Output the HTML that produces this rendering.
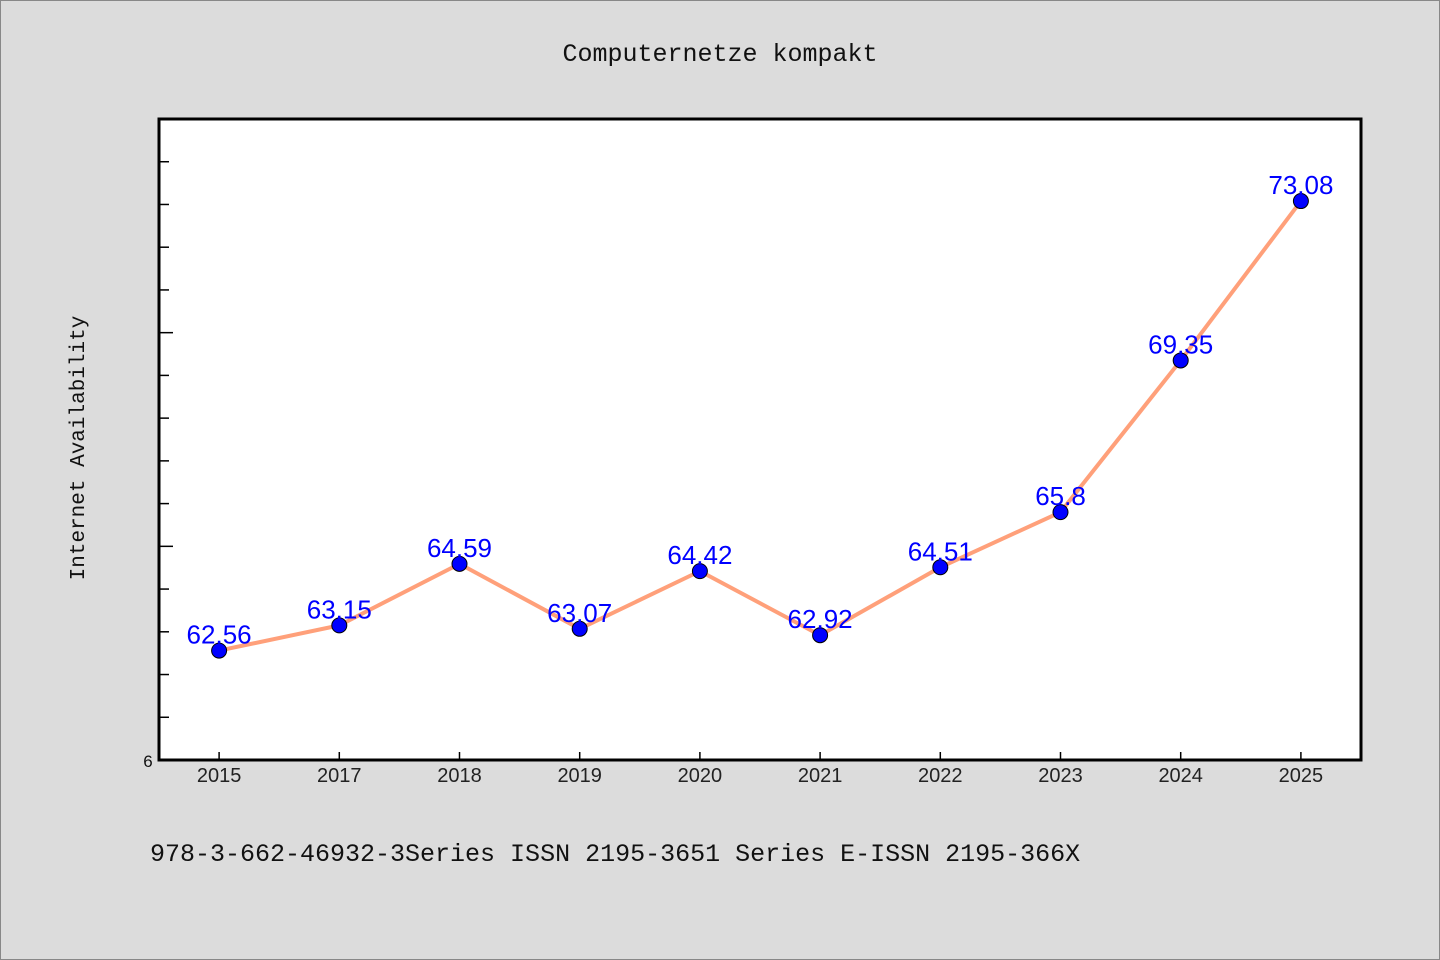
<!DOCTYPE html>
<html><head><meta charset="utf-8"><style>
html,body{margin:0;padding:0;background:#dcdcdc;}
svg{display:block;}
</style></head><body>
<svg width="1440" height="960" xmlns="http://www.w3.org/2000/svg">
<rect x="0.5" y="0.5" width="1439" height="959" fill="#dcdcdc" stroke="#888"/>
<text x="720" y="61" text-anchor="middle" font-family="Liberation Mono, monospace" font-size="25" fill="#111">Computernetze kompakt</text>
<rect x="159" y="119" width="1202" height="641" fill="#fff" stroke="#000" stroke-width="3"/>
<text transform="translate(84,448) rotate(-90)" text-anchor="middle" font-family="Liberation Mono, monospace" font-size="21" fill="#111">Internet Availability</text>
<text x="148" y="767" text-anchor="middle" font-family="Liberation Sans, sans-serif" font-size="17" fill="#111">6</text>
<text x="150" y="861" font-family="Liberation Mono, monospace" font-size="25" fill="#111">978-3-662-46932-3Series ISSN 2195-3651 Series E-ISSN 2195-366X</text>
<g id="ticks"></g><g id="xlabels"></g><g id="series"></g>
</svg>
<script>
const categories=["2015","2017","2018","2019","2020","2021","2022","2023","2024","2025"];
const values=[62.56,63.15,64.59,63.07,64.42,62.92,64.51,65.8,69.35,73.08];
const labels=["62.56","63.15","64.59","63.07","64.42","62.92","64.51","65.8","69.35","73.08"];
const yMin=60,yMax=75;
const L=159,R=1361,T=119,B=760;
const ns="http://www.w3.org/2000/svg";
const x=i=>L+(R-L)/categories.length*(i+0.5);
const y=v=>B-(v-yMin)/(yMax-yMin)*(B-T);
function mk(tag,attrs,parent){const e=document.createElementNS(ns,tag);for(const k in attrs)e.setAttribute(k,attrs[k]);parent.appendChild(e);return e;}
const tg=document.getElementById('ticks');
for(let v=yMin+1;v<yMax;v++){const major=v%5===0;
const t=mk('line',{x1:L,x2:L+(major?14:10),y1:y(v),y2:y(v),stroke:'#000','stroke-width':1.5},tg);

}
const xl=document.getElementById('xlabels');
categories.forEach((c,i)=>{
const t=mk('line',{x1:x(i),x2:x(i),y1:B,y2:B-8,stroke:'#000','stroke-width':1.5},xl);


const lb=mk('text',{x:x(i),y:782,'text-anchor':'middle','font-family':'Liberation Sans, sans-serif','font-size':20,fill:'#222'},xl);
lb.textContent=c;

});
const sg=document.getElementById('series');
const pl=mk('polyline',{points:values.map((v,i)=>x(i)+','+y(v)).join(' '),fill:'none',stroke:'#ffa07a','stroke-width':4,'stroke-linejoin':'round'},sg);


values.forEach((v,i)=>{
const c=mk('circle',{cx:x(i),cy:y(v),r:7.5,fill:'#0000ff',stroke:'#000','stroke-width':1},sg);


const t=mk('text',{x:x(i),y:y(v)-7,'text-anchor':'middle','font-family':'Liberation Sans, sans-serif','font-size':26,fill:'#0000ff'},sg);
t.textContent=labels[i];

});
</script>
</body></html>
